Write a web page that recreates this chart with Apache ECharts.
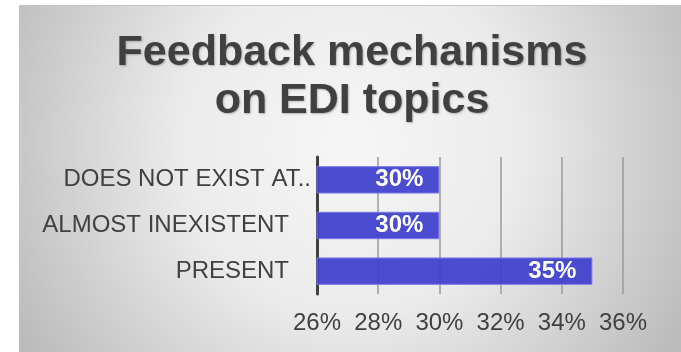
<!DOCTYPE html>
<html>
<head>
<meta charset="utf-8">
<script src="https://cdn.jsdelivr.net/npm/echarts@6/dist/echarts.min.js"></script>
<style>
html,body{margin:0;padding:0;background:#ffffff;}
#chart{width:681px;height:352px;}
</style>
</head>
<body>
<div id="chart"></div>
<script>
const titleText = 'Feedback mechanisms\non EDI topics';
const categories = ['PRESENT', 'ALMOST INEXISTENT', 'DOES NOT EXIST AT ALL'];
const values = [35, 30, 30];
const tickMin = 26;
const tickMax = 36;
const tickStep = 2;

const chart = echarts.init(document.getElementById('chart'));
const FONT = '"Liberation Sans", Arial, sans-serif';

chart.setOption({
  animation: false,
  graphic: [
    {
      type: 'rect', z: -10, silent: true,
      shape: { x: 19, y: 5, width: 662, height: 347 },
      style: {
        fill: {
          type: 'radial', x: 0.5, y: 0.4, r: 1.1,
          colorStops: [
            { offset: 0, color: '#f6f6f6' },
            { offset: 0.45, color: '#ebebeb' },
            { offset: 1, color: '#bbbbbb' }
          ]
        }
      }
    },
    {
      type: 'line', z: -9, silent: true,
      shape: { x1: 19, y1: 5.5, x2: 681, y2: 5.5 },
      style: { stroke: '#c4c4c4', lineWidth: 1 }
    }
  ],
  title: {
    text: titleText,
    left: 347,
    top: 24,
    textAlign: 'center',
    textStyle: {
      fontFamily: FONT,
      fontSize: 43,
      fontWeight: 'bold',
      color: '#404040',
      lineHeight: 48,
      textShadowColor: 'rgba(0,0,0,0.25)',
      textShadowBlur: 2,
      textShadowOffsetX: 1,
      textShadowOffsetY: 1
    }
  },
  grid: { left: 317, right: 58, top: 157, bottom: 58, containLabel: false },
  xAxis: {
    type: 'value',
    min: tickMin,
    max: tickMax,
    interval: tickStep,
    axisLine: { show: false },
    axisTick: { show: false },
    splitLine: { show: true, lineStyle: { color: '#9a9a9a', width: 1.5 } },
    axisLabel: {
      formatter: v => v + '%',
      fontFamily: FONT,
      fontSize: 24,
      color: '#404040',
      margin: 17
    }
  },
  yAxis: {
    type: 'category',
    data: categories,
    axisLine: { show: true, lineStyle: { color: '#404040', width: 3 } },
    axisTick: { show: false },
    axisLabel: {
      margin: 6,
      fontFamily: FONT,
      fontSize: 24,
      color: '#404040',
      formatter: function (v) {
        if (v.length > 18) return '{t|' + v.slice(0, 17) + '..}';
        return '{p|' + v + '}';
      },
      rich: {
        t: { fontFamily: FONT, fontSize: 24, color: '#404040' },
        p: { fontFamily: FONT, fontSize: 24, color: '#404040', padding: [0, 22, 0, 0] }
      }
    }
  },
  series: [{
    type: 'bar',
    data: values,
    barCategoryGap: '40%',
    itemStyle: {
      color: 'rgba(62,62,205,0.92)',
      borderColor: '#7a7ae6',
      borderWidth: 1
    },
    label: {
      show: true,
      position: 'insideRight',
      distance: 16,
      formatter: p => p.value + '%',
      fontFamily: FONT,
      fontSize: 24,
      fontWeight: 'bold',
      color: '#ffffff'
    }
  }]
});
</script>
</body>
</html>
